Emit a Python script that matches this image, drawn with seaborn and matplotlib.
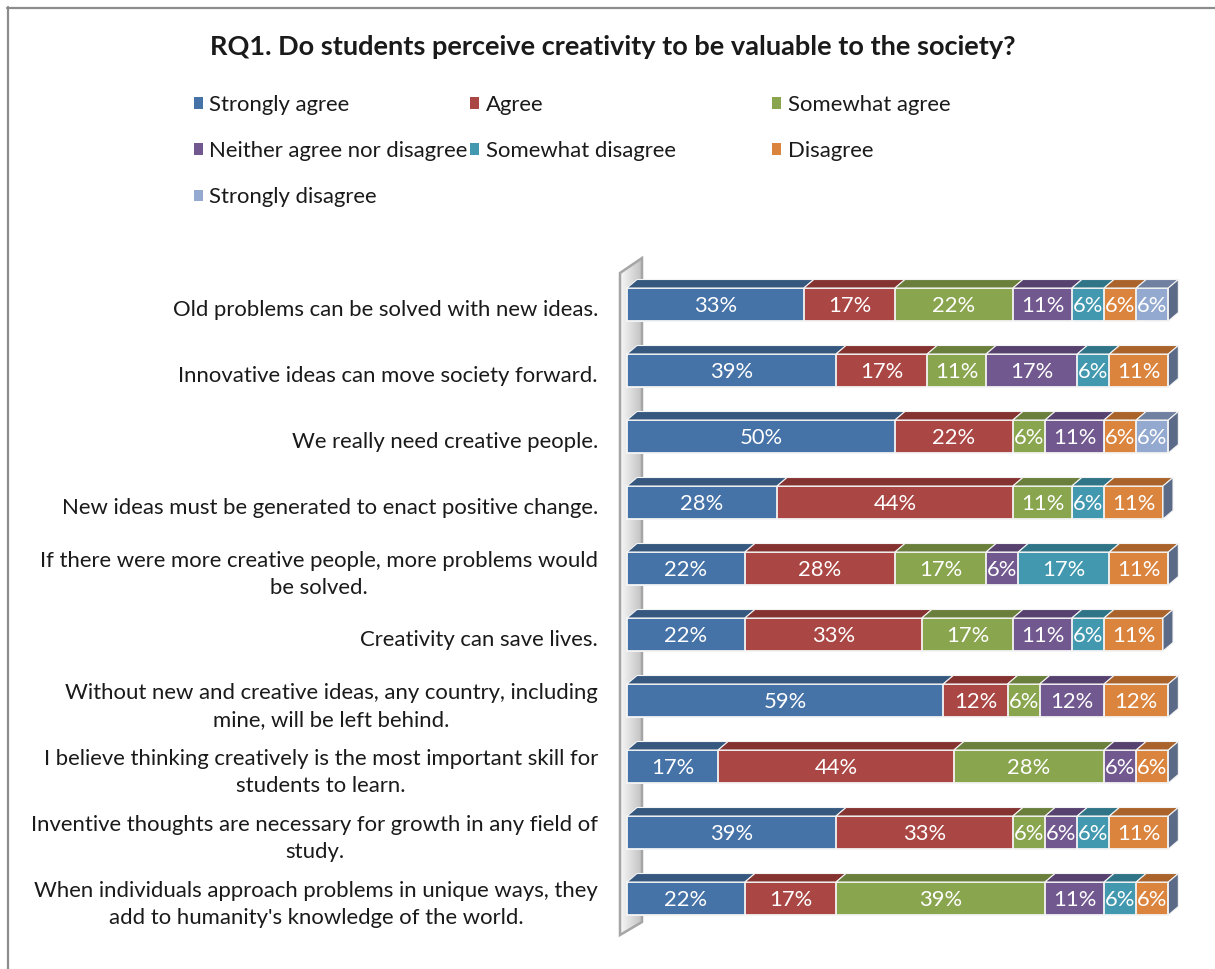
import numpy as np
import matplotlib
matplotlib.use("Agg")
import matplotlib.pyplot as plt
import matplotlib.transforms as mtransforms
from matplotlib.patches import Polygon, Patch
from matplotlib.lines import Line2D
import seaborn as sns

# ---- data -------------------------------------------------------------
title = "RQ1. Do students perceive creativity to be valuable to the society?"

statements = [
    "Old problems can be solved with new ideas.",
    "Innovative ideas can move society forward.",
    "We really need creative people.",
    "New ideas must be generated to enact positive change.",
    "If there were more creative people, more problems would\nbe solved.",
    "Creativity can save lives.",
    "Without new and creative ideas, any country, including\nmine, will be left behind.",
    "I believe thinking creatively is the most important skill for\nstudents to learn.",
    "Inventive thoughts are necessary for growth in any field of\nstudy.",
    "When individuals approach problems in unique ways, they\nadd to humanity's knowledge of the world.",
]

responses = ["Strongly agree", "Agree", "Somewhat agree",
             "Neither agree nor disagree", "Somewhat disagree",
             "Disagree", "Strongly disagree"]

strongly_agree    = [33, 39, 50, 28, 22, 22, 59, 17, 39, 22]
agree             = [17, 17, 22, 44, 28, 33, 12, 44, 33, 17]
somewhat_agree    = [22, 11,  6, 11, 17, 17,  6, 28,  6, 39]
neither           = [11, 17, 11,  0,  6, 11, 12,  6,  6, 11]
somewhat_disagree = [ 6,  6,  0,  6, 17,  6,  0,  0,  6,  6]
disagree          = [ 6, 11,  6, 11, 11, 11, 12,  6, 11,  6]
strongly_disagree = [ 6,  0,  6,  0,  0,  0,  0,  0,  0,  0]

# ---- style ------------------------------------------------------------
front_colors = ["#4572A7", "#AA4643", "#89A54E", "#71588F",
                "#4198AF", "#DB843D", "#93A9CF"]
top_colors = ["#36587f", "#843331", "#6a7f3c", "#56416f",
              "#2f7487", "#aa642b", "#6f80a0"]
side_color = "#5b6b87"
edge_white = "#f4f4f4"

sns.set_theme(style="white")
FONT = ["Lato", "DejaVu Sans"]
plt.rcParams["font.family"] = FONT

W, H, DPI = 1215, 969, 100
fig = plt.figure(figsize=(W / DPI, H / DPI), dpi=DPI)
fig.patch.set_facecolor("white")

# plot area in pixels; 0 % at x=627, 100 % at x=1163, rows 66 px apart
ax_l, ax_r, ax_t, ax_b = 600, 1200, 240, 950
ax = fig.add_axes([ax_l / W, 1 - ax_b / H, (ax_r - ax_l) / W, (ax_b - ax_t) / H])
x0_px, px_per_pct = 627.0, 5.36
y0_px, px_per_row = 304.5, 66.0


def xd(px):
    return (px - x0_px) / px_per_pct


def yd(py):
    return (py - y0_px) / px_per_row


series = np.array([strongly_agree, agree, somewhat_agree, neither,
                   somewhat_disagree, disagree, strongly_disagree], dtype=float)
cum = np.cumsum(series, axis=0)
rows = np.arange(len(statements))

# back wall of the 3-D frame with a soft grey gradient
wall_pts = [(xd(620), yd(273)), (xd(642), yd(258)),
            (xd(642), yd(922)), (xd(620), yd(935))]
wall = Polygon(wall_pts, closed=True, facecolor="none",
               edgecolor="#a6a6a6", linewidth=1.8, zorder=0.6)
ax.add_patch(wall)
grad = np.linspace(0.97, 0.76, 64)[None, :]
img = ax.imshow(np.repeat(grad, 2, axis=0), cmap="gray", vmin=0, vmax=1,
                extent=(xd(620), xd(642), yd(935), yd(258)),
                aspect="auto", zorder=0.5, interpolation="bilinear")
img.set_clip_path(Polygon(wall_pts, closed=True, transform=ax.transData))

# stacked front faces: cumulative bars drawn from longest to shortest
bar_w = 0.5
for k in reversed(range(len(responses))):
    sns.barplot(x=cum[k], y=statements, orient="h", color=front_colors[k],
                saturation=1, width=bar_w, edgecolor=edge_white,
                linewidth=1.3, errorbar=None, ax=ax, zorder=1)

# depth of the 3-D bars
dx = xd(x0_px + 10)
dy = 8.5 / px_per_row

for i in rows:
    yt = i - bar_w / 2
    yb = i + bar_w / 2
    for k in range(len(responses)):
        v = series[k, i]
        if v <= 0:
            continue
        left, right = cum[k, i] - v, cum[k, i]
        ax.add_patch(Polygon([(left, yt), (right, yt), (right + dx, yt - dy),
                              (left + dx, yt - dy)], closed=True,
                             facecolor=top_colors[k], edgecolor=edge_white,
                             linewidth=0.8, zorder=2))
        ax.text((left + right) / 2, i + 0.03, f"{int(v)}%", color="white",
                ha="center", va="center", fontsize=15.8, zorder=3)
    tot = cum[-1, i]
    ax.add_patch(Polygon([(tot, yt), (tot + dx, yt - dy), (tot + dx, yb - dy),
                          (tot, yb)], closed=True, facecolor=side_color,
                         edgecolor=edge_white, linewidth=0.8, zorder=2))

ax.set_xlim(xd(ax_l), xd(ax_r))
ax.set_ylim(yd(ax_b), yd(ax_t))
ax.set_xticks([])
ax.set_yticks([])
ax.set_xlabel("")
ax.set_ylabel("")
for s in ax.spines.values():
    s.set_visible(False)
ax.patch.set_alpha(0)

# category labels, right-aligned beside the wall
lab_tr = mtransforms.blended_transform_factory(fig.transFigure, ax.transData)
for i, s in zip(rows, statements):
    ax.text(598 / W, i + 0.09, s, transform=lab_tr, ha="right", va="center",
            multialignment="center", fontsize=15.9, color="#1a1a1a",
            linespacing=1.42, clip_on=False)

# title
fig.text(613 / W, 1 - 47 / H, title, ha="center", va="center",
         fontsize=19.5, fontweight="bold", color="#1a1a1a")

# legend laid out in three columns
columns = [[0, 3, 6], [1, 4], [2, 5]]
col_x = [193.5, 470, 772]
for col, cx in zip(columns, col_x):
    handles = [Patch(facecolor=front_colors[k], edgecolor="none") for k in col]
    labels = [responses[k] for k in col]
    fig.legend(handles, labels, loc="upper left",
               bbox_to_anchor=(cx / W, 1 - 95 / H), frameon=False,
               borderpad=0, borderaxespad=0, handlelength=0.42,
               handleheight=0.42, handletextpad=0.3, labelspacing=1.18,
               fontsize=15.9, labelcolor="#1a1a1a")

# outer chart frame
frame_c = "#8c8c8c"
fig.add_artist(Line2D([7.5 / W, 7.5 / W], [0, 1 - 7 / H],
                      transform=fig.transFigure, color=frame_c, linewidth=1.6))
fig.add_artist(Line2D([7 / W, 1], [1 - 7.5 / H, 1 - 7.5 / H],
                      transform=fig.transFigure, color=frame_c, linewidth=1.6))

fig.savefig("out.png", dpi=DPI, facecolor="white")
